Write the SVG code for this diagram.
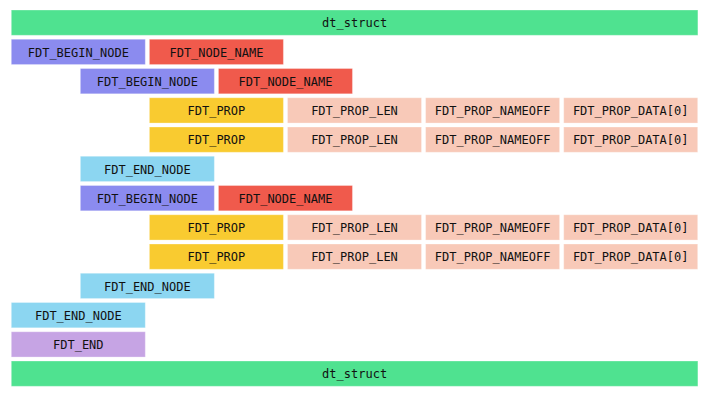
<svg xmlns="http://www.w3.org/2000/svg" width="708" height="396" viewBox="0 0 708 396">
<style>
rect{stroke:#fff;stroke-opacity:0.3;stroke-width:1}
text{font-family:"DejaVu Sans Mono",monospace;font-size:12px;fill:#111;text-anchor:middle;dominant-baseline:central}
.g{fill:#4fe290}.b{fill:#8b8bef}.r{fill:#f05a4c}.y{fill:#f9cb30}.s{fill:#f8c9b8}.c{fill:#8cd6f1}.p{fill:#c6a4e4}
</style>
<rect width="708" height="396" fill="#fff" stroke="none"/>
<g id="row0"><rect class="g" x="11.3" y="10" width="686.6" height="25.3"/><text x="354.6" y="23.4">dt_struct</text></g>
<g id="row1">
<g id="n1a"><rect class="b" x="11.3" y="39.25" width="134" height="25.3"/><text x="78.3" y="52.6">FDT_BEGIN_NODE</text></g>
<g id="n1b"><rect class="r" x="149.4" y="39.25" width="134" height="25.3"/><text x="216.4" y="52.6">FDT_NODE_NAME</text></g>
</g>
<g id="row2">
<g id="n2a"><rect class="b" x="80.35" y="68.5" width="134" height="25.3"/><text x="147.35" y="81.9">FDT_BEGIN_NODE</text></g>
<g id="n2b"><rect class="r" x="218.45" y="68.5" width="134" height="25.3"/><text x="285.45" y="81.9">FDT_NODE_NAME</text></g>
</g>
<g id="row3">
<g id="n3a"><rect class="y" x="149.4" y="97.75" width="134" height="25.3"/><text x="216.4" y="111.1">FDT_PROP</text></g>
<g id="n3b"><rect class="s" x="287.5" y="97.75" width="134" height="25.3"/><text x="354.5" y="111.1">FDT_PROP_LEN</text></g>
<g id="n3c"><rect class="s" x="425.6" y="97.75" width="134" height="25.3"/><text x="492.6" y="111.1">FDT_PROP_NAMEOFF</text></g>
<g id="n3d"><rect class="s" x="563.7" y="97.75" width="134" height="25.3"/><text x="630.7" y="111.1">FDT_PROP_DATA[0]</text></g>
</g>
<g id="row4">
<g id="n4a"><rect class="y" x="149.4" y="127" width="134" height="25.3"/><text x="216.4" y="140.4">FDT_PROP</text></g>
<g id="n4b"><rect class="s" x="287.5" y="127" width="134" height="25.3"/><text x="354.5" y="140.4">FDT_PROP_LEN</text></g>
<g id="n4c"><rect class="s" x="425.6" y="127" width="134" height="25.3"/><text x="492.6" y="140.4">FDT_PROP_NAMEOFF</text></g>
<g id="n4d"><rect class="s" x="563.7" y="127" width="134" height="25.3"/><text x="630.7" y="140.4">FDT_PROP_DATA[0]</text></g>
</g>
<g id="row5"><rect class="c" x="80.35" y="156.25" width="134" height="25.3"/><text x="147.35" y="169.6">FDT_END_NODE</text></g>
<g id="row6">
<g id="n6a"><rect class="b" x="80.35" y="185.5" width="134" height="25.3"/><text x="147.35" y="198.9">FDT_BEGIN_NODE</text></g>
<g id="n6b"><rect class="r" x="218.45" y="185.5" width="134" height="25.3"/><text x="285.45" y="198.9">FDT_NODE_NAME</text></g>
</g>
<g id="row7">
<g id="n7a"><rect class="y" x="149.4" y="214.75" width="134" height="25.3"/><text x="216.4" y="228.1">FDT_PROP</text></g>
<g id="n7b"><rect class="s" x="287.5" y="214.75" width="134" height="25.3"/><text x="354.5" y="228.1">FDT_PROP_LEN</text></g>
<g id="n7c"><rect class="s" x="425.6" y="214.75" width="134" height="25.3"/><text x="492.6" y="228.1">FDT_PROP_NAMEOFF</text></g>
<g id="n7d"><rect class="s" x="563.7" y="214.75" width="134" height="25.3"/><text x="630.7" y="228.1">FDT_PROP_DATA[0]</text></g>
</g>
<g id="row8">
<g id="n8a"><rect class="y" x="149.4" y="244" width="134" height="25.3"/><text x="216.4" y="257.4">FDT_PROP</text></g>
<g id="n8b"><rect class="s" x="287.5" y="244" width="134" height="25.3"/><text x="354.5" y="257.4">FDT_PROP_LEN</text></g>
<g id="n8c"><rect class="s" x="425.6" y="244" width="134" height="25.3"/><text x="492.6" y="257.4">FDT_PROP_NAMEOFF</text></g>
<g id="n8d"><rect class="s" x="563.7" y="244" width="134" height="25.3"/><text x="630.7" y="257.4">FDT_PROP_DATA[0]</text></g>
</g>
<g id="row9"><rect class="c" x="80.35" y="273.25" width="134" height="25.3"/><text x="147.35" y="286.6">FDT_END_NODE</text></g>
<g id="row10"><rect class="c" x="11.3" y="302.5" width="134" height="25.3"/><text x="78.3" y="315.9">FDT_END_NODE</text></g>
<g id="row11"><rect class="p" x="11.3" y="331.75" width="134" height="25.3"/><text x="78.3" y="345.1">FDT_END</text></g>
<g id="row12"><rect class="g" x="11.3" y="361" width="686.6" height="25.3"/><text x="354.6" y="374.4">dt_struct</text></g>
<g id="connectors"/>
</svg>
